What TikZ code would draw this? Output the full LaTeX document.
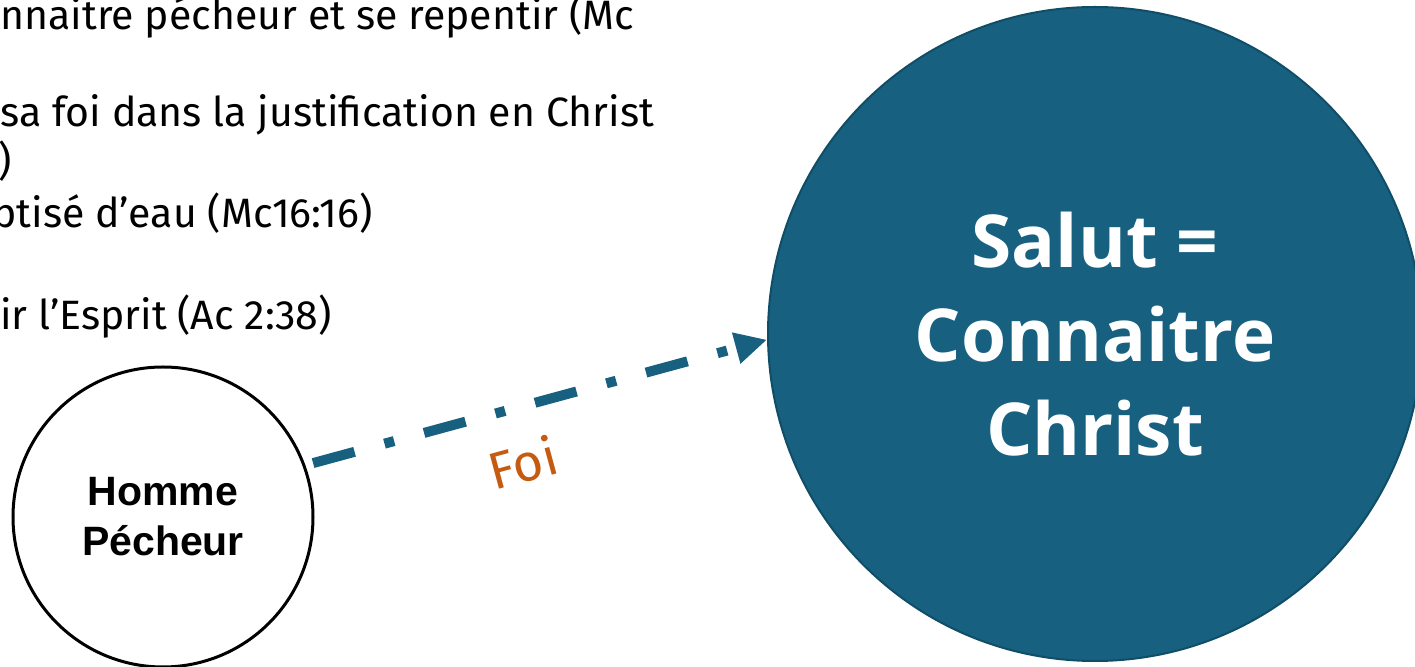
\documentclass[tikz,border=0pt]{standalone}
\usepackage{fontspec}
\setmainfont{Fira Sans}
\newfontfamily\hommefont{Liberation Sans}
\newfontfamily\salutfont{Open Sans}
\usetikzlibrary{arrows.meta, positioning}

\definecolor{salutblue}{RGB}{23,96,128}
\definecolor{salutedge}{RGB}{16,78,104}
\definecolor{foiorange}{RGB}{197,90,17}

\begin{document}
\begin{tikzpicture}[x=0.5pt, y=-0.5pt,
    bullet/.style={anchor=base west, inner sep=0pt, font=\fontsize{20.5}{25}\selectfont},
    sinner/.style={circle, draw=black, line width=1.5pt, minimum size=150pt, inner sep=0pt, align=center, font=\hommefont\bfseries\fontsize{20.5}{25}\selectfont},
    salut/.style={circle, draw=salutedge, line width=1pt, fill=salutblue, minimum size=327pt, inner sep=0pt, align=center, text=white, font=\salutfont\bfseries\fontsize{36.5}{47}\selectfont},
    arrow/.style={salutblue, line width=5pt, dash pattern=on 21.5pt off 15.5pt on 5pt off 15.5pt, -{Triangle[length=16pt, width=15pt]}}
    ]
    \useasboundingbox (0,0) rectangle (1415,667);

    % Text on the left (cut by the edge)
    \node (txt1) [bullet] at (0,30) {nnaitre pécheur et se repentir (Mc};
    \node (txt2) [bullet] at (0,127) {sa foi dans la justification en Christ};
    \node (txt3) [bullet] at (-2,176) {)};
    \node (txt4) [bullet] at (-8,228) {ptisé d’eau (Mc16:16)};
    \node (txt5) [bullet] at (0,330) {ir l’Esprit (Ac 2:38)};

    % Circles
    \node (homme) [sinner] at (163,517) {Homme\\Pécheur};
    \node (salut) [salut] at (1095,334) {Salut =\\Connaitre\\Christ};

    % Arrow
    \draw [arrow, shorten <=4pt] (homme.20) -- node[pos=0.44, sloped, below=11pt, font=\fontsize{26}{30}\selectfont, text=foiorange] (foi) {Foi} (salut.181);

\end{tikzpicture}
\end{document}
